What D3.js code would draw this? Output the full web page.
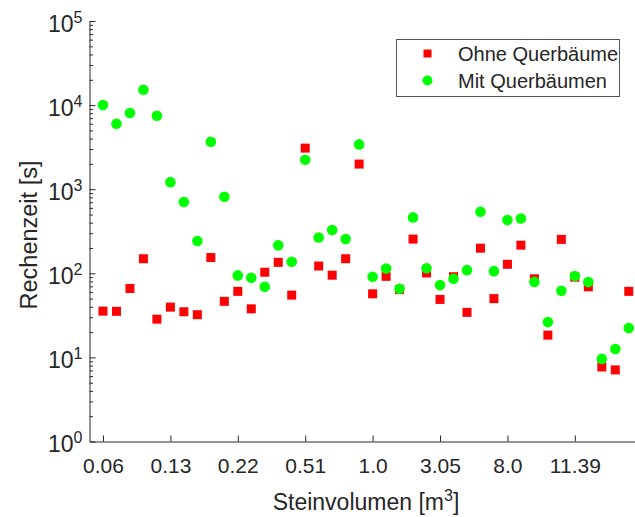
<!DOCTYPE html>
<html>
<head>
<meta charset="utf-8">
<script src="https://cdn.jsdelivr.net/npm/d3@7"></script>
<style>
  body { margin: 0; background: #fff; }
  text { font-family: "Liberation Sans", Arial, sans-serif; fill: #262626; }
</style>
</head>
<body>
<svg></svg>
<script>
let width = 635;
let height = 517;

// data
let tickIdx = [1, 6, 11, 16, 21, 26, 31, 36];
let tickLabels = ['0.06', '0.13', '0.22', '0.51', '1.0', '3.05', '8.0', '11.39'];
let ohne = [35.5, 35.3, 66, 149, 28.5, 39.6, 34.9, 32.2, 154, 46.4,
            61, 37.8, 103, 135, 55, 3080, 122, 95, 149, 1990,
            57, 92, 64, 255, 101, 48.9, 91, 34.3, 199, 50,
            128, 216, 86, 18.4, 253, 90, 69, 7.7, 7.1, 61];
let mit = [10000, 6000, 8040, 15200, 7460, 1213, 703, 242, 3660, 813,
           94.4, 88.5, 69, 215, 137, 2240, 267, 327, 255, 3410,
           91, 114, 65.4, 462, 115, 72.4, 86, 109, 539, 106,
           429, 449, 79, 26.3, 62, 92.6, 78.6, 9.6, 12.6, 22.3];
let yMajor = [1, 10, 100, 1000, 10000, 100000];

let svg = d3.select('svg')
            .attr('width', width)
            .attr('height', height);

let x = d3.scaleLinear().domain([0, 40.5]).range([89.5, 635.5]);
let y = d3.scaleLog().domain([1, 100000]).range([441.5, 21]);

// minor ticks for log axis
let yMinor = [];
for (let e = 0; e < 5; e++) {
  for (let k = 2; k <= 9; k++) yMinor.push(k * Math.pow(10, e));
}

// y axis
let yAxis = svg.append('g')
  .attr('transform', 'translate(89.5,0)')
  .call(d3.axisLeft(y).tickValues(yMajor).tickSizeInner(-6).tickSizeOuter(0).tickPadding(7)
        .tickFormat(d => ''));
yAxis.selectAll('.tick text')
  .style('font-size', '23px')
  .attr('dy', '0.45em')
  .each(function(d) {
    let t = d3.select(this);
    t.append('tspan').text('10');
    t.append('tspan').attr('dy', '-9px').style('font-size', '16px').text(Math.round(Math.log10(d)));
  });
svg.append('g')
  .attr('transform', 'translate(89.5,0)')
  .call(d3.axisLeft(y).tickValues(yMinor).tickSizeInner(-3.5).tickSizeOuter(0).tickFormat(''))
  .call(g => g.select('.domain').remove())
  .selectAll('line').attr('stroke', '#262626');
yAxis.selectAll('path, line').attr('stroke', '#262626');

// x axis
let xAxis = svg.append('g')
  .attr('transform', 'translate(0,441.5)')
  .call(d3.axisBottom(x).tickValues(tickIdx).tickSizeInner(-6).tickSizeOuter(0).tickPadding(17)
        .tickFormat((d, i) => tickLabels[i]));
xAxis.selectAll('path, line').attr('stroke', '#262626');
xAxis.selectAll('.tick text').style('font-size', '21px');

// axis labels
svg.append('text')
   .attr('x', 366)
   .attr('y', 510)
   .attr('text-anchor', 'middle')
   .style('font-size', '23px')
   .text('Steinvolumen [m')
   .call(t => {
     t.append('tspan').attr('dy', '-9px').style('font-size', '16px').text('3');
     t.append('tspan').attr('dy', '9px').text(']');
   });

svg.append('text')
   .attr('transform', 'translate(37,235) rotate(-90)')
   .attr('text-anchor', 'middle')
   .style('font-size', '23.5px')
   .text('Rechenzeit [s]');

// markers: red squares first, green circles on top
svg.append('g')
   .selectAll('rect')
   .data(ohne)
   .enter()
   .append('rect')
   .attr('x', (d, i) => x(i + 1) - 4.5)
   .attr('y', d => y(d) - 4.5)
   .attr('width', 9)
   .attr('height', 9)
   .attr('fill', '#ff0000');

svg.append('g')
   .selectAll('circle')
   .data(mit)
   .enter()
   .append('circle')
   .attr('cx', (d, i) => x(i + 1))
   .attr('cy', d => y(d))
   .attr('r', 5.3)
   .attr('fill', '#00ff00');

// legend
let legend = svg.append('g');
legend.append('rect')
      .attr('x', 396.5)
      .attr('y', 39.5)
      .attr('width', 223)
      .attr('height', 57)
      .attr('fill', '#fff')
      .attr('stroke', '#555')
      .attr('stroke-width', 1);
legend.append('rect')
      .attr('x', 423.5).attr('y', 49.5)
      .attr('width', 8).attr('height', 8)
      .attr('fill', '#ff0000');
legend.append('circle')
      .attr('cx', 427.5).attr('cy', 80.5).attr('r', 5)
      .attr('fill', '#00ff00');
legend.append('text')
      .attr('x', 458).attr('y', 61)
      .style('font-size', '20px')
      .text('Ohne Querbäume');
legend.append('text')
      .attr('x', 458).attr('y', 88)
      .style('font-size', '20px')
      .text('Mit Querbäumen');
</script>
</body>
</html>
